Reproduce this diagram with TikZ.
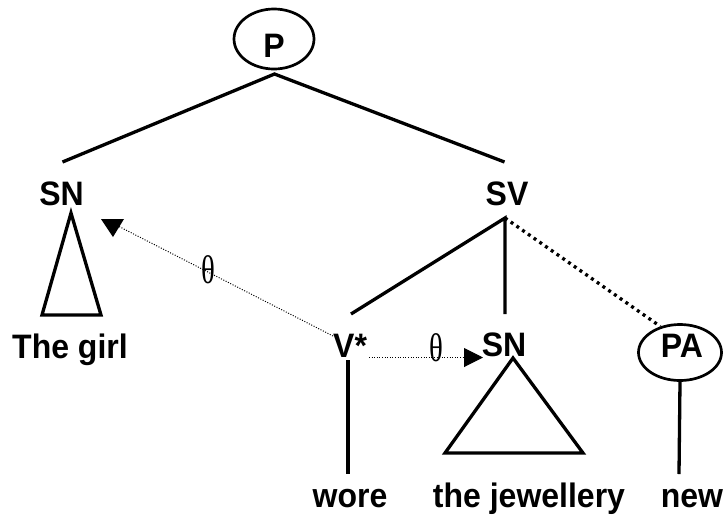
\documentclass[tikz,border=0pt]{standalone}
\usepackage{fontspec}
\setmainfont{Liberation Sans}
\newfontfamily\thetafont{Liberation Serif}
\usetikzlibrary{shapes.geometric,arrows.meta}
\begin{document}
\begin{tikzpicture}[x=1pt,y=-1pt,
  lbl/.style={inner sep=0pt, anchor=base, font=\fontsize{32}{36}\selectfont\bfseries},
  th/.style={inner sep=0pt, font=\thetafont\fontsize{40}{44}\selectfont},
  branch/.style={line width=3.3pt},
  thindot/.style={line width=1pt, dash pattern=on 1pt off 1.6pt},
  thickdot/.style={line width=3.3pt, dash pattern=on 3pt off 4pt},
  oval/.style={ellipse, draw, line width=2.7pt, inner sep=0pt},
  tri/.style={line width=3.3pt, line join=miter}]
\useasboundingbox (0,0) rectangle (723,515);

% nodes
\node[oval, minimum width=80pt, minimum height=60pt] (Pov) at (274,39) {};
\node[lbl] (P) at (274,57) {\scalebox{1}[1.06]{P}};
\node[lbl] (SN1) at (61.5,205) {\scalebox{1}[1.06]{SN}};
\node[lbl] (SV) at (507,205) {\scalebox{1}[1.06]{SV}};
\node[lbl] (girl) at (70,358) {\scalebox{1}[1.06]{The girl}};
\node[lbl, anchor=base west] (V) at (333,357) {\scalebox{1}[1.06]{V*}};
\node[lbl] (SN2) at (504,356) {\scalebox{1}[1.06]{SN}};
\node[oval, minimum width=83pt, minimum height=56pt] (PAov) at (680,352.5) {};
\node[lbl] (PA) at (682,357) {\scalebox{1}[1.06]{PA}};
\node[lbl] (wore) at (350,507) {\scalebox{1}[1.06]{wore}};
\node[lbl] (jew) at (529,507) {\scalebox{1}[1.06]{the jewellery}};
\node[lbl] (new) at (692,507) {\scalebox{1}[1.06]{new}};

% coordinates
\coordinate (Pb) at (274.5,74);
\coordinate (SNt) at (62.5,162);
\coordinate (SVt) at (504.5,162);
\coordinate (SVb) at (505,218);
\coordinate (Vt) at (351,314);
\coordinate (SN2t) at (505,314);
\coordinate (Vb) at (348,360);
\coordinate (woret) at (348,474);
\coordinate (newt) at (679,474);
\coordinate (A1s) at (333,336);
\coordinate (A1e) at (118,226);
\coordinate (A2s) at (369,357.5);
\coordinate (A2e) at (483,357.5);

% tree branches
\draw[branch] (SNt) -- (Pb) -- (SVt);
\draw[branch] (Vt) -- (SVb) -- (SN2t);
\draw[thickdot] (SVb) -- (PAov.127);
\draw[branch] (Vb) -- (woret);
\draw[branch] (PAov.south) -- (newt);

% triangles
\draw[tri] (71,213) -- (101,315) -- (42,315) -- cycle;
\draw[tri] (513,358) -- (583,453) -- (445,453) -- cycle;

% theta relations
\draw[thindot] (A1s) -- (A1e);
\fill (101,219) -- (124,219) -- (113,237) -- cycle;
\node[th] (th1) at (208,270) {\scalebox{0.72}[1]{θ}};
\draw[thindot, -{Triangle[length=19pt,width=19pt]}] (A2s) -- (A2e);
\node[th] (th2) at (436,347.5) {\scalebox{0.72}[1]{θ}};
\end{tikzpicture}
\end{document}
